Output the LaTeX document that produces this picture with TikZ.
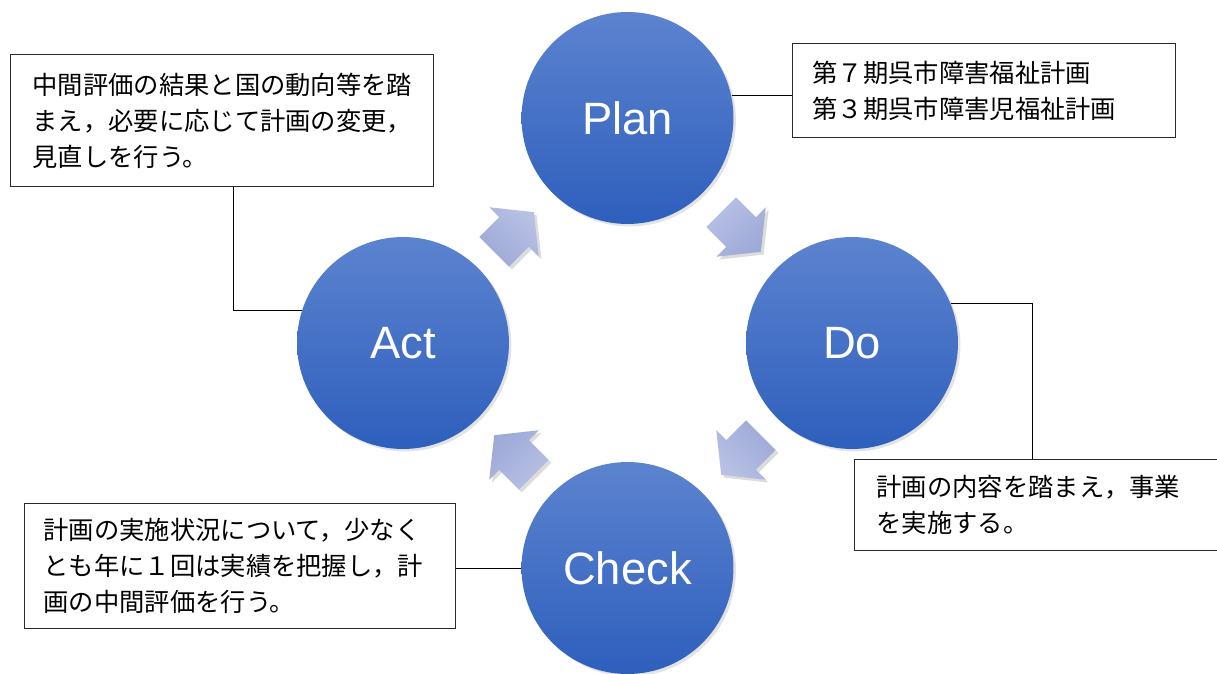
\documentclass[tikz,border=0pt]{standalone}
\usepackage{fontspec}
\setmainfont{Liberation Sans}
\newfontfamily\jpfont{Noto Sans CJK JP}
\usetikzlibrary{shadows}

\definecolor{phasetop}{HTML}{5C83CF}
\definecolor{phasebot}{HTML}{2E5FBD}
\definecolor{arrowtop}{HTML}{B8C1E5}
\definecolor{arrowbot}{HTML}{9DA9D7}
\definecolor{notedraw}{HTML}{2B2B2B}

\begin{document}
\begin{tikzpicture}[
  x=0.02cm, y=0.02cm,
  phase/.style={circle, minimum size=4.24cm, inner sep=0pt,
    top color=phasetop, bottom color=phasebot, text=white,
    font=\fontsize{25.8pt}{30pt}\selectfont,
    drop shadow={opacity=0.22, shadow xshift=1.4pt, shadow yshift=-1.4pt}},
  note/.style={draw=notedraw, line width=0.7pt, fill=white, anchor=north west,
    align=left, inner ysep=2pt,
    font=\jpfont\fontsize{14.4pt}{20.5pt}\selectfont},
  link/.style={draw=black, line width=0.55pt},
  cyclearrow/.style={top color=arrowtop, bottom color=arrowbot,
    drop shadow={opacity=0.28, shadow xshift=1.6pt, shadow yshift=-1.6pt}}
]
\useasboundingbox (0,0) rectangle (1217,673);

% Text boxes.
\node[note, text width=7.58cm, inner xsep=0.44cm, minimum height=2.64cm] (actbox) at (10,619)
  {中間評価の結果と国の動向等を踏\\まえ，必要に応じて計画の変更，\\見直しを行う。};
\node[note, text width=6.86cm, inner xsep=0.40cm, minimum height=1.88cm] (planbox) at (792,630)
  {第７期呉市障害福祉計画\\第３期呉市障害児福祉計画};
\node[note, text width=6.48cm, inner xsep=0.44cm, minimum height=1.82cm] (dobox) at (854,214)
  {計画の内容を踏まえ，事業\\を実施する。};
\node[note, text width=7.86cm, inner xsep=0.38cm, minimum height=2.50cm] (checkbox) at (24,170)
  {計画の実施状況について，少なく\\とも年に１回は実績を把握し，計\\画の中間評価を行う。};

% PDCA circles.
\node[phase] (plan) at (627.5,555) {Plan};
\node[phase] (do) at (852,330) {Do};
\node[phase] (check) at (627.5,105) {Check};
\node[phase] (act) at (403,330) {Act};

% Leader lines.
\draw[link] (plan.12) -- (plan.12 -| planbox.west);
\draw[link] (do.22) -| ([xshift=-0.12cm]dobox.north);
\draw[link] (check.west) -- (check.west -| checkbox.east);
\draw[link] (act.162) -| ([xshift=0.23cm]actbox.south);

% Cycle arrows.
\foreach \x/\y/\a in {514/441/45, 741/441/-45, 741/218/-135, 514/218/135}
  \path[cyclearrow, shading angle=-\a, shift={(\x,\y)}, rotate=\a]
    (-28,-21) -- (0,-21) -- (0,-35) -- (28,0) -- (0,35) -- (0,21) -- (-28,21) -- cycle;

\end{tikzpicture}
\end{document}
